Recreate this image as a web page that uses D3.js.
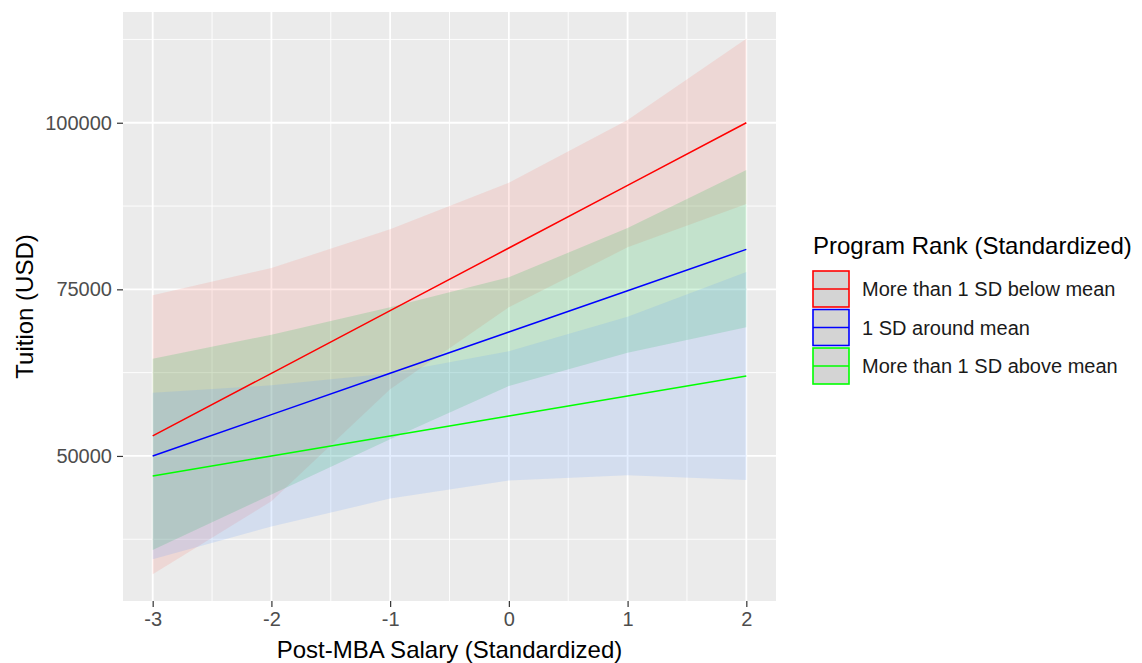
<!DOCTYPE html>
<html>
<head>
<meta charset="utf-8">
<script src="https://cdn.jsdelivr.net/npm/d3@7"></script>
<style>
	body { margin: 0; background: #fff; }
	text { font-family: "Liberation Sans", Arial, sans-serif; }
</style>
</head>
<body>
<svg id="chart" width="1142" height="663"></svg>
<script>
// predicted values at each standardized salary step
const xs = [-3, -2, -1, 0, 1, 2];

const seriesNames = ["More than 1 SD below mean", "1 SD around mean", "More than 1 SD above mean"];
const lineColors = ["#FF0000", "#0000FF", "#00FF00"];
// ribbon fills follow ggplot's default hue order, not the line colours
const ribbonFills = ["#F8766D", "#00BA38", "#619CFF"];

const belowFit  = [53000, 62400, 71800, 81200, 90600, 100000];
const belowLow  = [32250, 43200, 60000, 72300, 81300, 87800];
const belowHigh = [74100, 78200, 84000, 91000, 100400, 112600];

const aroundFit  = [50000, 56200, 62400, 68600, 74800, 81000];
const aroundLow  = [35900, 44200, 52500, 60500, 65500, 69300];
const aroundHigh = [64600, 68200, 72300, 76800, 84200, 92900];

const aboveFit  = [47000, 50000, 53000, 56000, 59000, 62000];
const aboveLow  = [34500, 39400, 43600, 46300, 47100, 46400];
const aboveHigh = [59500, 60600, 62400, 65700, 70900, 77600];

const xTicks = [-3, -2, -1, 0, 1, 2];
const xMinor = [-2.5, -1.5, -0.5, 0.5, 1.5];
const yTicks = [50000, 75000, 100000];
const yMinor = [37500, 62500, 87500, 112500];

(function(d3){
	const svg = d3.select("#chart");
	const panel = {left: 123, top: 12, right: 776, bottom: 601};

	const series = [
		{fit: belowFit, low: belowLow, high: belowHigh},
		{fit: aroundFit, low: aroundLow, high: aroundHigh},
		{fit: aboveFit, low: aboveLow, high: aboveHigh}
	].map((s, i) => Object.assign(s, {name: seriesNames[i], color: lineColors[i], fill: ribbonFills[i]}));

	// ggplot style 5% expansion on both scales
	function expand(ext) {
		const pad = (ext[1] - ext[0]) * 0.05;
		return [ext[0] - pad, ext[1] + pad];
	}
	const yExt = d3.extent(series.flatMap(s => s.low.concat(s.high)));

	const x = d3.scaleLinear().domain(expand(d3.extent(xs))).range([panel.left, panel.right]);
	const y = d3.scaleLinear().domain(expand(yExt)).range([panel.bottom, panel.top]);

	svg.append("rect")
		.attr("x", panel.left).attr("y", panel.top)
		.attr("width", panel.right - panel.left)
		.attr("height", panel.bottom - panel.top)
		.attr("fill", "#EBEBEB");

	const grid = svg.append("g").attr("stroke", "#fff");
	grid.selectAll(".ymin").data(yMinor).enter().append("line")
		.attr("x1", panel.left).attr("x2", panel.right)
		.attr("y1", d => y(d)).attr("y2", d => y(d))
		.attr("stroke-width", 0.9);
	grid.selectAll(".xmin").data(xMinor).enter().append("line")
		.attr("y1", panel.top).attr("y2", panel.bottom)
		.attr("x1", d => x(d)).attr("x2", d => x(d))
		.attr("stroke-width", 0.9);
	grid.selectAll(".ymaj").data(yTicks).enter().append("line")
		.attr("x1", panel.left).attr("x2", panel.right)
		.attr("y1", d => y(d)).attr("y2", d => y(d))
		.attr("stroke-width", 1.8);
	grid.selectAll(".xmaj").data(xTicks).enter().append("line")
		.attr("y1", panel.top).attr("y2", panel.bottom)
		.attr("x1", d => x(d)).attr("x2", d => x(d))
		.attr("stroke-width", 1.8);

	const area = d3.area()
		.x((d, i) => x(xs[i]))
		.y0(d => y(d[0]))
		.y1(d => y(d[1]));
	const line = d3.line()
		.x((d, i) => x(xs[i]))
		.y(d => y(d));

	svg.append("g").selectAll("path")
		.data(series)
		.enter().append("path")
		.attr("d", s => area(s.low.map((v, i) => [v, s.high[i]])))
		.attr("fill", s => s.fill)
		.attr("fill-opacity", 0.17);

	svg.append("g").selectAll("path")
		.data(series)
		.enter().append("path")
		.attr("d", s => line(s.fit))
		.attr("fill", "none")
		.attr("stroke", s => s.color)
		.attr("stroke-width", 1.5);

	// axes
	const xAxis = svg.append("g")
		.attr("transform", `translate(0,${panel.bottom})`)
		.call(d3.axisBottom(x).tickValues(xTicks).tickSize(6).tickPadding(5).tickFormat(d3.format("d")));
	const yAxis = svg.append("g")
		.attr("transform", `translate(${panel.left},0)`)
		.call(d3.axisLeft(y).tickValues(yTicks).tickSize(6).tickPadding(5).tickFormat(d3.format("d")));
	[xAxis, yAxis].forEach(a => {
		a.select(".domain").remove();
		a.selectAll(".tick line").attr("stroke", "#333").attr("stroke-width", 1.2);
		a.selectAll(".tick text")
			.attr("fill", "#4D4D4D")
			.style("font-size", "20px")
			.style("font-family", "'Liberation Sans', Arial, sans-serif");
	});
	xAxis.selectAll(".tick text").text(d => d < 0 ? "-" + Math.abs(d) : d);

	svg.append("text")
		.attr("x", (panel.left + panel.right) / 2)
		.attr("y", 658)
		.attr("text-anchor", "middle")
		.style("font-size", "24px")
		.text("Post-MBA Salary (Standardized)");

	svg.append("text")
		.attr("transform", `translate(33,${(panel.top + panel.bottom) / 2}) rotate(-90)`)
		.attr("text-anchor", "middle")
		.style("font-size", "24px")
		.text("Tuition (USD)");

	// legend
	const legend = svg.append("g").attr("transform", "translate(812,0)");
	legend.append("text")
		.attr("x", 1).attr("y", 254)
		.style("font-size", "24px")
		.text("Program Rank (Standardized)");

	const keySize = 36, keyStep = 38.5, keyTop = 270;
	const keys = legend.selectAll(".key")
		.data(series)
		.enter().append("g")
		.attr("transform", (d, i) => `translate(0,${keyTop + i * keyStep})`);
	keys.append("rect")
		.attr("x", 1).attr("y", 1)
		.attr("width", keySize).attr("height", keySize)
		.attr("fill", "#D4D4D4")
		.attr("stroke", d => d.color)
		.attr("stroke-width", 1.6);
	keys.append("line")
		.attr("x1", 1).attr("x2", keySize + 1)
		.attr("y1", keySize / 2 + 1).attr("y2", keySize / 2 + 1)
		.attr("stroke", d => d.color)
		.attr("stroke-width", 1.5);
	keys.append("text")
		.attr("x", 50).attr("y", keySize / 2 + 1)
		.attr("dy", "0.35em")
		.style("font-size", "20px")
		.attr("fill", "#1A1A1A")
		.text(d => d.name);
}(d3));
</script>
</body>
</html>
